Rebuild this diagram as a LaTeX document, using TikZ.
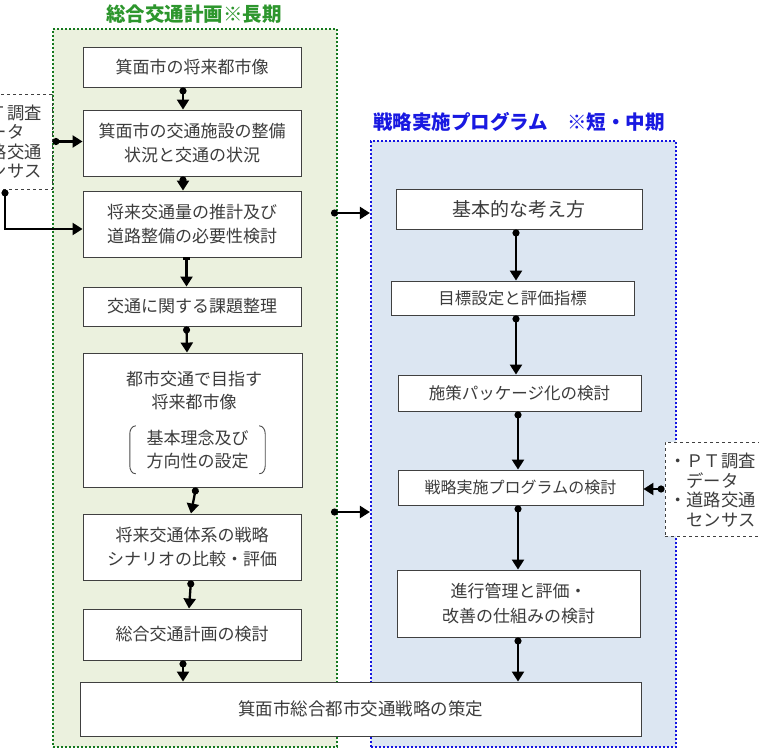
\documentclass[tikz,border=0pt]{standalone}
\usepackage{fontspec}
\setmainfont{Noto Sans CJK JP}
\usetikzlibrary{arrows.meta}
\definecolor{gfill}{RGB}{235,241,222}
\definecolor{bfill}{RGB}{220,230,242}
\definecolor{gline}{RGB}{20,120,30}
\definecolor{bline}{RGB}{20,20,225}
\definecolor{gtitle}{RGB}{45,150,45}
\definecolor{btitle}{RGB}{25,25,225}
\definecolor{tx}{RGB}{60,60,60}
\begin{document}
\begin{tikzpicture}[x=1pt,y=-1pt,
  box/.style={draw=black!75, line width=0.9pt, fill=white, text=tx, align=center, inner sep=0pt,
    font=\fontsize{17}{24.5}\selectfont},
  plain/.style={text=tx, align=center, inner sep=0pt, font=\fontsize{17}{23}\selectfont},
  sidebox/.style={draw=black!75, line width=0.9pt, dashed, fill=white, inner sep=0pt},
  sidetext/.style={text=tx, align=left, inner sep=0pt, font=\fontsize{17.3}{19.5}\selectfont},
  greg/.style={draw=gline, fill=gfill, line width=2.2pt, dash pattern=on 2pt off 2pt, inner sep=0pt},
  breg/.style={draw=bline, fill=bfill, line width=2.2pt, dash pattern=on 2pt off 2pt, inner sep=0pt},
  conn/.style={line width=2.3pt, {Circle[length=7pt]}-{Triangle[length=10pt,width=12pt]}},
  connb/.style={line width=2.3pt, {Bar[width=7pt,length=1.5pt]}-{Triangle[length=10pt,width=12pt]}},
  title/.style={inner sep=0pt, font=\fontsize{19.5}{22}\selectfont\bfseries}]
\useasboundingbox (0,0) rectangle (759,749);
\clip (0,0) rectangle (759,749);

% regions
\node[greg, minimum width=284pt, minimum height=718pt] (green) at (195,388) {};
\node[breg, minimum width=305pt, minimum height=606pt] (blue) at (523.5,444) {};
\node[title, text=gtitle] (gt) at (194,14) {総合交通計画※長期};
\node[title, text=btitle] (bt) at (519,122) {戦略実施プログラム　※短・中期};

% left column
\node[box, minimum width=218pt, minimum height=40pt] (b1) at (192,67) {箕面市の将来都市像};
\node[box, minimum width=218pt, minimum height=66pt] (b2) at (192,143) {箕面市の交通施設の整備\\状況と交通の状況};
\node[box, minimum width=218pt, minimum height=66pt] (b3) at (192,224) {将来交通量の推計及び\\道路整備の必要性検討};
\node[box, minimum width=218pt, minimum height=39pt] (b4) at (192,306.5) {交通に関する課題整理};
\node[box, minimum width=219pt, minimum height=134pt] (b5) at (192.5,420) {};
\node[plain] (t5a) at (194,390.5) {都市交通で目指す\\将来都市像};
\node[plain, minimum width=135pt, minimum height=48pt] (t5b) at (197.5,450) {基本理念及び\\方向性の設定};
\draw[black!70, line width=0.9pt] ([xshift=6pt]t5b.north west) to[out=180,in=90] ++(-6pt,-8pt) -- ++(0,-32pt) to[out=-90,in=180] ++(6pt,-8pt);
\draw[black!70, line width=0.9pt] ([xshift=-6pt]t5b.north east) to[out=0,in=90] ++(6pt,-8pt) -- ++(0,-32pt) to[out=-90,in=0] ++(-6pt,-8pt);
\node[box, minimum width=218pt, minimum height=66pt] (b6) at (192,547) {将来交通体系の戦略\\シナリオの比較・評価};
\node[box, minimum width=218pt, minimum height=51pt] (b7) at (192,634.5) {総合交通計画の検討};
\node[box, minimum width=561pt, minimum height=54pt, font=\fontsize{17.5}{24}\selectfont] (fin) at (360.5,709) {箕面市総合都市交通戦略の策定};

% right column
\node[box, minimum width=246pt, minimum height=40pt, font=\fontsize{19}{24}\selectfont] (r1) at (519,209) {基本的な考え方};
\node[box, minimum width=243pt, minimum height=34pt, font=\fontsize{16.5}{24}\selectfont] (r2) at (512.5,298) {目標設定と評価指標};
\node[box, minimum width=243pt, minimum height=36pt, font=\fontsize{16.5}{24}\selectfont] (r3) at (519.5,393) {施策パッケージ化の検討};
\node[box, minimum width=245pt, minimum height=35pt, font=\fontsize{16}{24}\selectfont] (r4) at (520.5,487.5) {戦略実施プログラムの検討};
\node[box, minimum width=243pt, minimum height=67pt] (r5) at (518.5,603.5) {進行管理と評価・\\改善の仕組みの検討};

% side boxes
\node[sidebox, minimum width=103pt, minimum height=95pt] (sl) at (0.5,141.5) {};
\node[sidetext, anchor=west] (slt) at (-45,141.5) {・ＰＴ調査\\　データ\\・道路交通\\　センサス};
\node[sidebox, minimum width=103pt, minimum height=94pt] (sr) at (716.5,489) {};
\node[sidetext, anchor=west] (srt) at (669,490) {・ＰＴ調査\\　データ\\・道路交通\\　センサス};

% free start points of the cross arrows
\coordinate (c1) at (331,213);
\coordinate (c2) at (331,512);

% connectors, left column
\draw[conn] ([xshift=-9pt]b1.south) -- ([xshift=-9pt]b2.north);
\draw[conn] ([xshift=-9pt]b2.south) -- ([xshift=-9pt]b3.north);
\draw[connb] ([xshift=-5.5pt]b3.south) -- ([xshift=-5.5pt]b4.north);
\draw[conn] ([xshift=-5.5pt]b4.south) -- ([xshift=-5.5pt]b5.north);
\draw[conn] ([xshift=3.5pt]b5.south) -- ([xshift=-1pt]b6.north);
\draw[conn] ([xshift=-1pt]b6.south) -- ([xshift=-3pt]b7.north);
\draw[conn] ([xshift=-9pt]b7.south) -- ([xshift=-177.5pt]fin.north);

% side connectors
\draw[conn] (sl.east) -- (sl.east -| b2.west);
\draw[conn] ([xshift=4.5pt]sl.south) |- ([yshift=-5pt]b3.west);
\draw[conn] (sr.west) -- (sr.west -| r4.east);

% cross connectors
\draw[conn] (c1) -- (c1 -| blue.west);
\draw[conn] (c2) -- (c2 -| blue.west);

% connectors, right column
\draw[conn] ([xshift=-3pt]r1.south) -- ([xshift=3.5pt]r2.north);
\draw[conn] ([xshift=3.5pt]r2.south) -- ([xshift=-3.5pt]r3.north);
\draw[conn] ([xshift=-1.5pt]r3.south) -- ([xshift=-2.5pt]r4.north);
\draw[conn] ([xshift=-2.5pt]r4.south) -- ([xshift=-0.5pt]r5.north);
\draw[conn] ([xshift=-0.5pt]r5.south) -- ([xshift=157.5pt]fin.north);
\end{tikzpicture}
\end{document}
